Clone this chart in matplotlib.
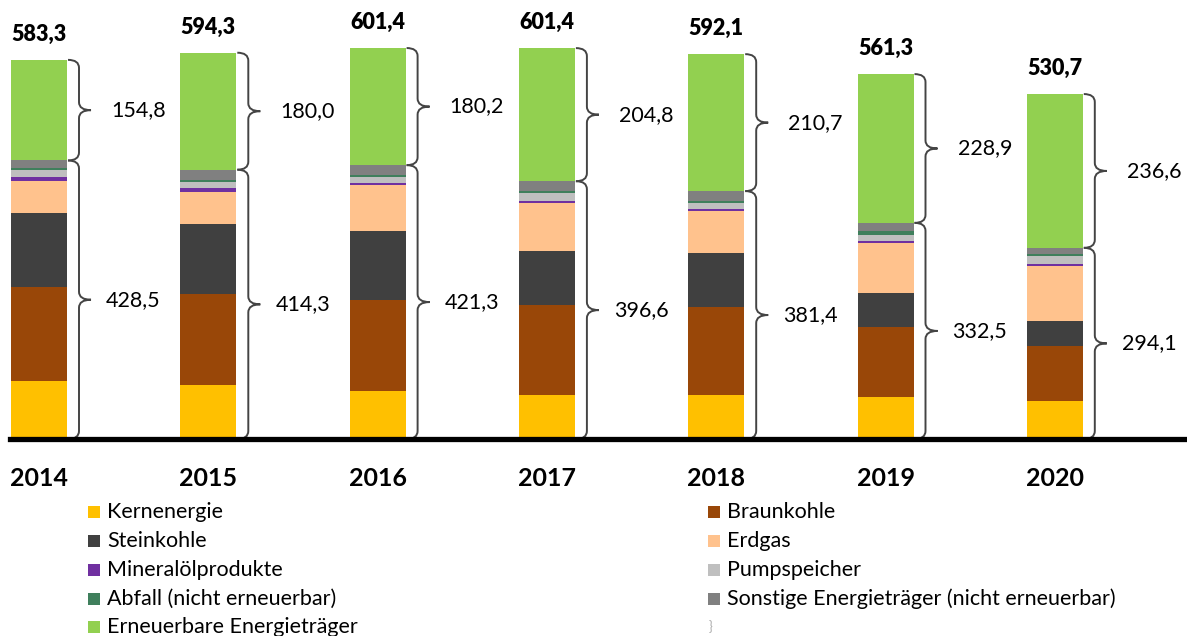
import matplotlib.pyplot as plt
from matplotlib.path import Path
from matplotlib.patches import PathPatch, Rectangle

years = ["2014", "2015", "2016", "2017", "2018", "2019", "2020"]

# TWh
kernenergie = [89.7, 83.2, 74.0, 67.9, 68.0, 64.9, 59.1]
braunkohle = [144.4, 140.1, 140.4, 137.8, 134.8, 106.8, 84.0]
steinkohle = [114.0, 107.8, 104.9, 82.8, 82.9, 52.6, 38.9]
erdgas = [49.5, 49.3, 71.5, 74.6, 64.8, 77.3, 84.0]
mineraloel = [6.2, 6.2, 2.6, 2.6, 3.1, 3.1, 3.1]
pumpspeicher = [9.3, 9.2, 9.3, 12.3, 9.3, 9.3, 12.4]
abfall = [3.1, 3.1, 3.1, 3.1, 3.1, 6.2, 3.1]
sonstige = [12.3, 15.4, 15.5, 15.5, 15.4, 12.3, 9.5]
erneuerbare = [154.8, 180.0, 180.2, 204.8, 210.7, 228.9, 236.6]

total_labels = [583.3, 594.3, 601.4, 601.4, 592.1, 561.3, 530.7]
fossil_labels = [428.5, 414.3, 421.3, 396.6, 381.4, 332.5, 294.1]

series = [
    ("Kernenergie", kernenergie, "#FFC000"),
    ("Braunkohle", braunkohle, "#994708"),
    ("Steinkohle", steinkohle, "#404040"),
    ("Erdgas", erdgas, "#FFC28D"),
    ("Mineralölprodukte", mineraloel, "#7030A0"),
    ("Pumpspeicher", pumpspeicher, "#BFBFBF"),
    ("Abfall (nicht erneuerbar)", abfall, "#3F7F5C"),
    ("Sonstige Energieträger (nicht erneuerbar)", sonstige, "#808080"),
    ("Erneuerbare Energieträger", erneuerbare, "#92D050"),
]

plt.rcParams['font.family'] = ['Lato', 'DejaVu Sans']

W, H = 1187, 636
fig = plt.figure(figsize=(W / 100, H / 100), dpi=100)
base_px = 439
ax = fig.add_axes([0, (H - base_px) / H, 1, base_px / H])
ax.axis('off')

step = 169.3          # px between bar centres
x0 = 39               # px of first bar centre
pxu = 0.65            # px per TWh
ax.set_xlim(-x0 / step, (W - x0) / step)
ax.set_ylim(0, base_px / pxu)

bw = 56 / step
xs = list(range(len(years)))
bottom = [0.0] * len(years)
for name, vals, col in series:
    ax.bar(xs, vals, bw, bottom=bottom, color=col, linewidth=0)
    bottom = [b + v for b, v in zip(bottom, vals)]

ax.axhline(0, xmin=10 / W, xmax=1, color="black", lw=3.8, clip_on=False)


def brace(x_end, x_mid, x_tip, y0, y1, r):
    ym = (y0 + y1) / 2
    verts = [(x_end, y0), (x_mid, y0), (x_mid, y0 + r),
             (x_mid, ym - r), (x_mid, ym), (x_tip, ym),
             (x_mid, ym), (x_mid, ym + r),
             (x_mid, y1 - r), (x_mid, y1), (x_end, y1)]
    codes = [Path.MOVETO, Path.CURVE3, Path.CURVE3,
             Path.LINETO, Path.CURVE3, Path.CURVE3,
             Path.CURVE3, Path.CURVE3,
             Path.LINETO, Path.CURVE3, Path.CURVE3]
    ax.add_patch(PathPatch(Path(verts, codes), fill=False,
                           edgecolor="#444444", lw=1.4, clip_on=False))


def fmt(v):
    return f"{v:.1f}".replace(".", ",")


r = 8 / pxu
for i, x in enumerate(xs):
    right = x + bw / 2
    nonren = sum(s[1][i] for s in series[:-1])
    top = nonren + erneuerbare[i]
    brace(right + 1 / step, right + 12 / step, right + 24 / step, 0, nonren, r)
    brace(right + 1 / step, right + 12 / step, right + 24 / step, nonren, top, r)
    ax.text(right + 39 / step, nonren / 2, fmt(fossil_labels[i]),
            fontsize=15.5, va="center", ha="left")
    ax.text(right + 44 / step, (nonren + top) / 2, fmt(erneuerbare[i]),
            fontsize=15.5, va="center", ha="left")
    ax.text(x, top + 25.5 / pxu, fmt(total_labels[i]), fontsize=15.5,
            fontweight="heavy", ha="center", va="center")
    ax.text(x, -39 / pxu, years[i], fontsize=18, fontweight="bold",
            ha="center", va="center", clip_on=False)

# legend, two columns
rows_y = [512, 541, 570, 599, 627]
cols_x = [88, 708]
for k, (name, vals, col) in enumerate(series):
    cx = cols_x[k % 2]
    cy = rows_y[k // 2]
    fig.patches.append(Rectangle(((cx) / W, (H - cy - 6) / H), 12 / W, 12 / H,
                                 transform=fig.transFigure, color=col, lw=0))
    fig.text((cx + 19) / W, (H - cy) / H, name, fontsize=15.5, va="center", ha="left")
fig.text(709 / W, (H - 627) / H, "}", fontsize=9, color="#aaaaaa",
         va="center", ha="left")

fig.savefig("out.png", dpi=100)
